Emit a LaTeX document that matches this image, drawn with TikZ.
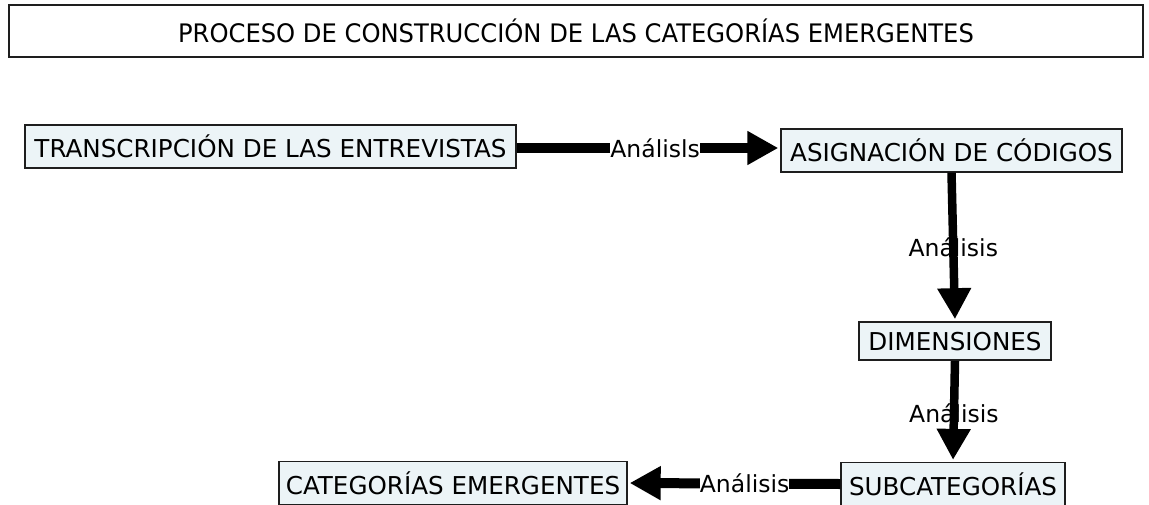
\documentclass[tikz,border=0pt]{standalone}
\usepackage{fontspec}
\setmainfont{DejaVu Sans}
\usetikzlibrary{arrows.meta}
\definecolor{boxfill}{RGB}{236,244,247}
\definecolor{boxline}{RGB}{30,30,30}
\begin{document}
\begin{tikzpicture}[x=1pt,y=-1pt,
  stagebox/.style={draw=boxline, line width=1.4pt, fill=boxfill, inner xsep=0pt, inner ysep=10pt,
    font=\fontsize{24.6}{29}\selectfont, text depth=0pt},
  titlebox/.style={draw=boxline, line width=2pt, fill=white, inner sep=0pt,
    font=\fontsize{25.5}{30}\selectfont},
  conn/.style={line width=10pt, -{Triangle[length=31pt,width=32pt]}, shorten >=2pt},
  vconn/.style={conn, line width=8.5pt},
  lab/.style={font=\fontsize{23.5}{28}\selectfont, inner sep=0pt, text depth=0pt},
  hlab/.style={lab, fill=white},
]
\useasboundingbox (0,0) rectangle (1149,504);

\node[titlebox, minimum width=1134pt, minimum height=52pt] (title) at (576,31)
  {\scalebox{0.95}[1]{PROCESO DE CONSTRUCCIÓN DE LAS CATEGORÍAS EMERGENTES}};

\node[stagebox, minimum width=491pt] (trans) at (270.5,146.5) {TRANSCRIPCIÓN DE LAS ENTREVISTAS};
\node[stagebox, minimum width=341pt] (asig) at (951.5,150.5) {ASIGNACIÓN DE CÓDIGOS};
\node[stagebox, minimum width=192pt] (dim) at (955,341) {DIMENSIONES};
\node[stagebox, minimum width=224pt] (sub) at (953,484) {SUBCATEGORÍAS};
\node[stagebox, minimum width=348pt] (cat) at (453,483) {CATEGORÍAS EMERGENTES};

\draw[conn] (trans.east |- 0,148) -- node[hlab, pos=0.525] {Análisls} (asig.west |- 0,148);
\draw[vconn] (asig.south) -- node[lab, pos=0.5] {Análisis} (dim.north);
\draw[vconn] (dim.south) -- node[lab, pos=0.52] {Análisis} (sub.north);
\draw[conn] (sub.west) -- node[hlab, pos=0.45] {Análisis} (cat.east);
\end{tikzpicture}
\end{document}
